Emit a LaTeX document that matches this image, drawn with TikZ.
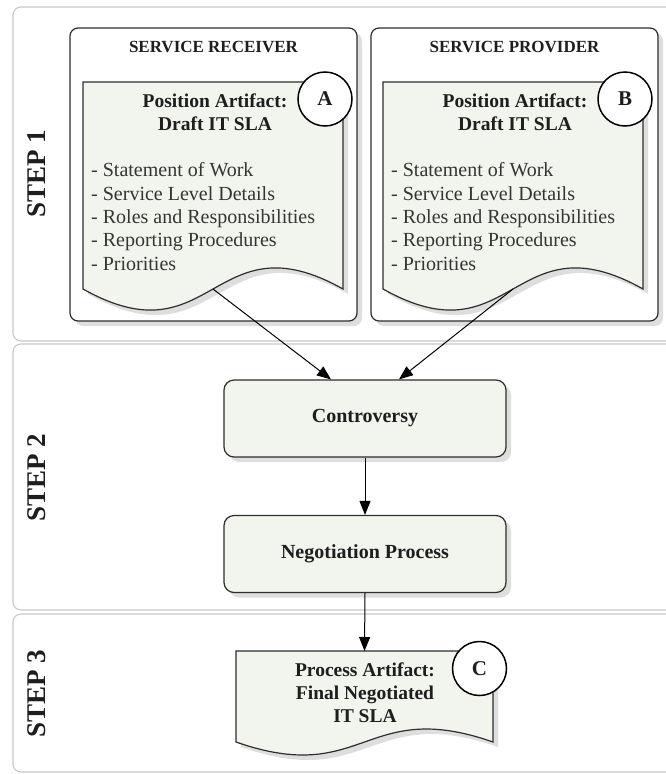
\documentclass[tikz,border=0pt]{standalone}
\usepackage{fontspec}
\setmainfont{Liberation Serif}
\usetikzlibrary{arrows.meta,calc,shadows}
\definecolor{docfill}{HTML}{F2F4EE}
\definecolor{panelline}{HTML}{C8C8C8}
\definecolor{shadowc}{HTML}{DEDEDE}
\definecolor{inkc}{HTML}{1E1E1E}
\definecolor{edgec}{HTML}{2E2E2E}
\newcommand\drawdoc[2]{%
  \fill[shadowc] ($(#1.south west)+(5,5)$) -- ($(#1.north west)+(5,5)$) -- ($(#1.north east)+(5,5)$) -- ($(#1.south east)+(5,5)$)
     .. controls ($(#1.south)+(5,-#2)+(0,5)$) and ($(#1.south)+(5,#2)+(0,5)$) .. ($(#1.south west)+(5,5)$) -- cycle;
  \draw[draw=edgec, line width=1.2pt, fill=docfill] (#1.south west) -- (#1.north west) -- (#1.north east) -- (#1.south east)
     .. controls ($(#1.south)+(0,-#2)$) and ($(#1.south)+(0,#2)$) .. (#1.south west) -- cycle;
}
\tikzset{
  panel/.style={draw=panelline, line width=1.1pt, rounded corners=8pt, fill=white},
  svcbox/.style={draw=edgec, line width=1.2pt, rounded corners=8pt, fill=white, inner sep=0pt,
     drop shadow={shadow xshift=5pt, shadow yshift=-5pt, fill=shadowc, opacity=1}},
  procbox/.style={draw=edgec, line width=1.2pt, rounded corners=10pt, fill=docfill, inner sep=0pt,
     minimum width=282pt, minimum height=77pt, text=inkc, font=\bfseries\fontsize{20}{24}\selectfont,
     drop shadow={shadow xshift=5pt, shadow yshift=-5pt, fill=shadowc, opacity=1}},
  docnode/.style={inner sep=0pt, outer sep=0pt},
  badge/.style={circle, draw=black, line width=1.5pt, fill=white, minimum size=54pt, inner sep=0pt,
     font=\bfseries\fontsize{21}{24}\selectfont, text=inkc},
  steplabel/.style={rotate=90, font=\bfseries\fontsize{27}{30}\selectfont, text=inkc, inner sep=0pt},
  svctitle/.style={font=\bfseries\fontsize{17}{20}\selectfont, text=inkc, inner sep=0pt},
  doctitle/.style={font=\bfseries\fontsize{19.5}{23}\selectfont, text=inkc, align=center, inner sep=0pt},
  doclist/.style={font=\fontsize{20}{23.3}\selectfont, text=inkc!90, align=left, inner sep=0pt, anchor=west},
  arr/.style={draw=black, line width=1pt, -{Triangle[length=14pt,width=11pt]}}
}
\begin{document}
\begin{tikzpicture}[x=1pt,y=-1pt]
\useasboundingbox (0,0) rectangle (666,774);
\clip (0,0) rectangle (666,774);
\fill[white] (0,0) rectangle (666,774);
% step panels
\draw[panel] (13,7) rectangle (690,341);
\draw[panel] (13,344) rectangle (690,610);
\draw[panel] (13,614) rectangle (690,772);
\node[steplabel] (s1) at (37,174) {STEP 1};
\node[steplabel] (s2) at (37,478) {STEP 2};
\node[steplabel] (s3) at (37,694) {STEP 3};
% service boxes
\node[svcbox, minimum width=287pt, minimum height=293pt] (recv) at (213.5,174.5) {};
\node[svcbox, minimum width=287pt, minimum height=293pt] (prov) at (514.5,174.5) {};
\node[svctitle] (recvt) at (213.5,47) {SERVICE RECEIVER};
\node[svctitle] (provt) at (514.5,47) {SERVICE PROVIDER};
% documents A and B
\node[docnode, minimum width=260pt, minimum height=207pt] (docA) at (213,185.5) {};
\node[docnode, minimum width=260pt, minimum height=207pt] (docB) at (513,185.5) {};
\drawdoc{docA}{73}
\drawdoc{docB}{73}
\node[doctitle] (tA) at (215,112) {Position Artifact:\\Draft IT SLA};
\node[doctitle] (tB) at (515,112) {Position Artifact:\\Draft IT SLA};
\node[doclist] (lA) at (91,216.5) {- Statement of Work\\- Service Level Details\\- Roles and Responsibilities\\- Reporting Procedures\\- Priorities};
\node[doclist] (lB) at (391,216.5) {- Statement of Work\\- Service Level Details\\- Roles and Responsibilities\\- Reporting Procedures\\- Priorities};
\node[badge] (bA) at (325,99) {A};
\node[badge] (bB) at (625,99) {B};
% step 2
\node[procbox] (contr) at (365,418.5) {Controversy};
\node[procbox] (nego) at (365,554) {Negotiation Process};
% step 3
\node[docnode, minimum width=257pt, minimum height=91pt] (docC) at (364.5,696.5) {};
\drawdoc{docC}{45}
\node[doctitle] (tC) at (365,693) {Process Artifact:\\Final Negotiated\\IT SLA};
\node[badge] (bC) at (479.5,668.5) {C};
% connectors
\draw[arr] (docA.south) -- ([xshift=-34pt]contr.north);
\draw[arr] (docB.south) -- ([xshift=34pt]contr.north);
\draw[arr] (contr.south) -- (nego.north);
\draw[arr] (nego.south) -- (docC.north);
\end{tikzpicture}
\end{document}
